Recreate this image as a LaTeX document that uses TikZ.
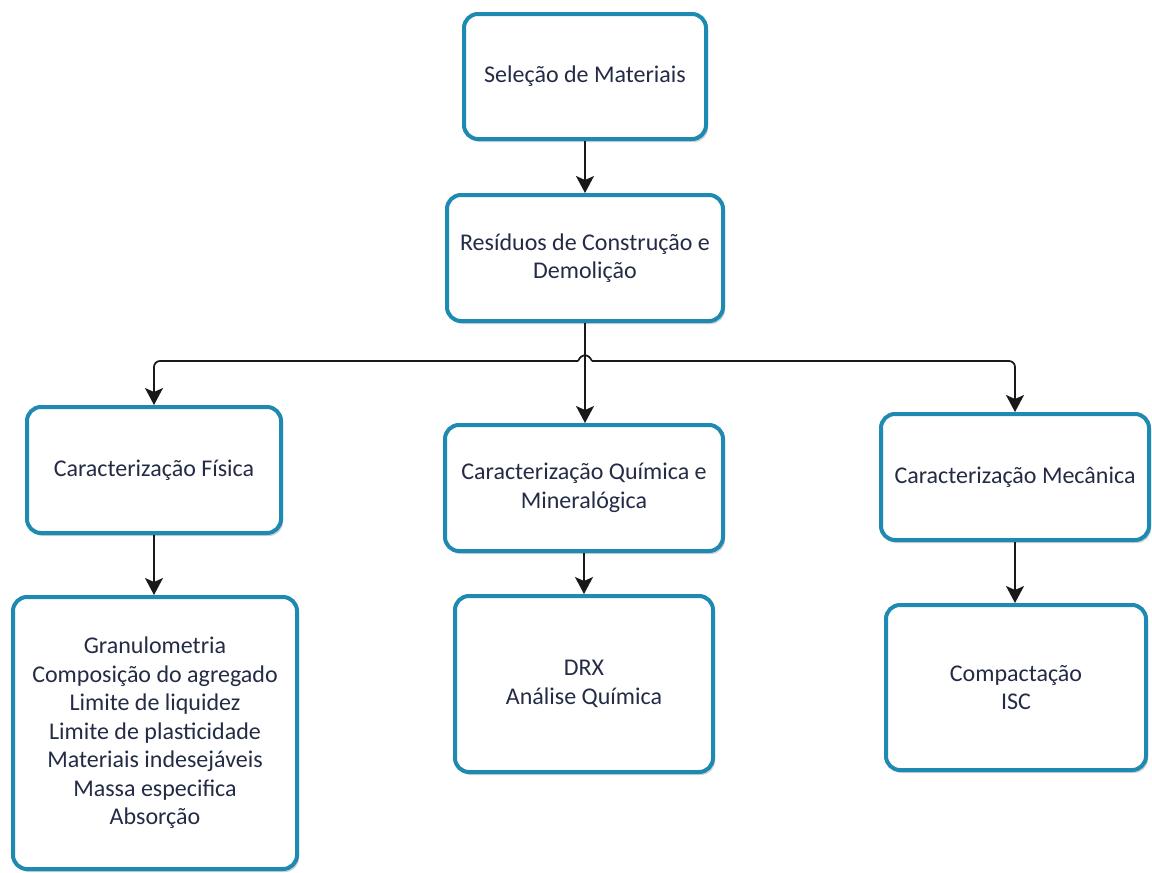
\documentclass[tikz,border=0pt]{standalone}
\usepackage{fontspec}
\setmainfont{Carlito}
\usetikzlibrary{arrows.meta,shadows,calc}
\definecolor{bordc}{HTML}{1E8AB2}
\definecolor{txtc}{HTML}{242C45}
\tikzset{
  box/.style={draw=bordc, line width=4pt, rounded corners=14pt, fill=white,
    align=center, text=txtc, inner sep=2pt,
    font=\fontsize{24}{28.5}\selectfont,
    drop shadow={shadow xshift=2pt, shadow yshift=-3pt, opacity=0.18, fill=black}},
  conn/.style={line width=1.7pt, draw=black!90, -{Stealth[length=17pt,width=18pt,inset=4pt]}},
  plain/.style={line width=1.7pt, draw=black!90}
}
\begin{document}
\begin{tikzpicture}[x=1pt,y=-1pt]
\useasboundingbox[fill=white] (0,0) rectangle (1152,873);
\node[box, minimum width=242pt, minimum height=125pt] (sel) at (585,76.5) {Seleção de Materiais};
\node[box, minimum width=276pt, minimum height=126pt] (rcd) at (585,258) {Resíduos de Construção e\\Demolição};
\node[box, minimum width=254pt, minimum height=126pt] (fis) at (154,470) {Caracterização Física};
\node[box, minimum width=278pt, minimum height=126pt] (qui) at (584,488) {Caracterização Química e\\Mineralógica};
\node[box, minimum width=268pt, minimum height=126pt] (mec) at (1015,477) {Caracterização Mecânica};
\node[box, minimum width=284pt, minimum height=272pt] (gran) at (155,733) {Granulometria\\Composição do agregado\\Limite de liquidez\\Limite de plasticidade\\Materiais indesejáveis\\Massa especifica\\Absorção};
\node[box, minimum width=258pt, minimum height=176pt] (drx) at (584,684) {DRX\\Análise Química};
\node[box, minimum width=260pt, minimum height=165pt] (isc) at (1016,687.5) {Compactação\\ISC};

\coordinate (j) at (585,361);
\draw[conn] (sel.south) -- (sel.south |- rcd.north);
\draw[conn] (rcd.south) -- (rcd.south |- qui.north);
\draw[plain] ($(j)+(-7,0)$) .. controls ($(j)+(-3,-8)$) and ($(j)+(3,-8)$) .. ($(j)+(7,0)$);
\draw[conn, rounded corners=6pt] ($(j)+(-7,0)$) -| (fis.north);
\draw[conn, rounded corners=6pt] ($(j)+(7,0)$) -| (mec.north);
\draw[conn] (fis.south) -- (fis.south |- gran.north);
\draw[conn] (qui.south) -- (qui.south |- drx.north);
\draw[conn] (mec.south) -- (mec.south |- isc.north);
\end{tikzpicture}
\end{document}
